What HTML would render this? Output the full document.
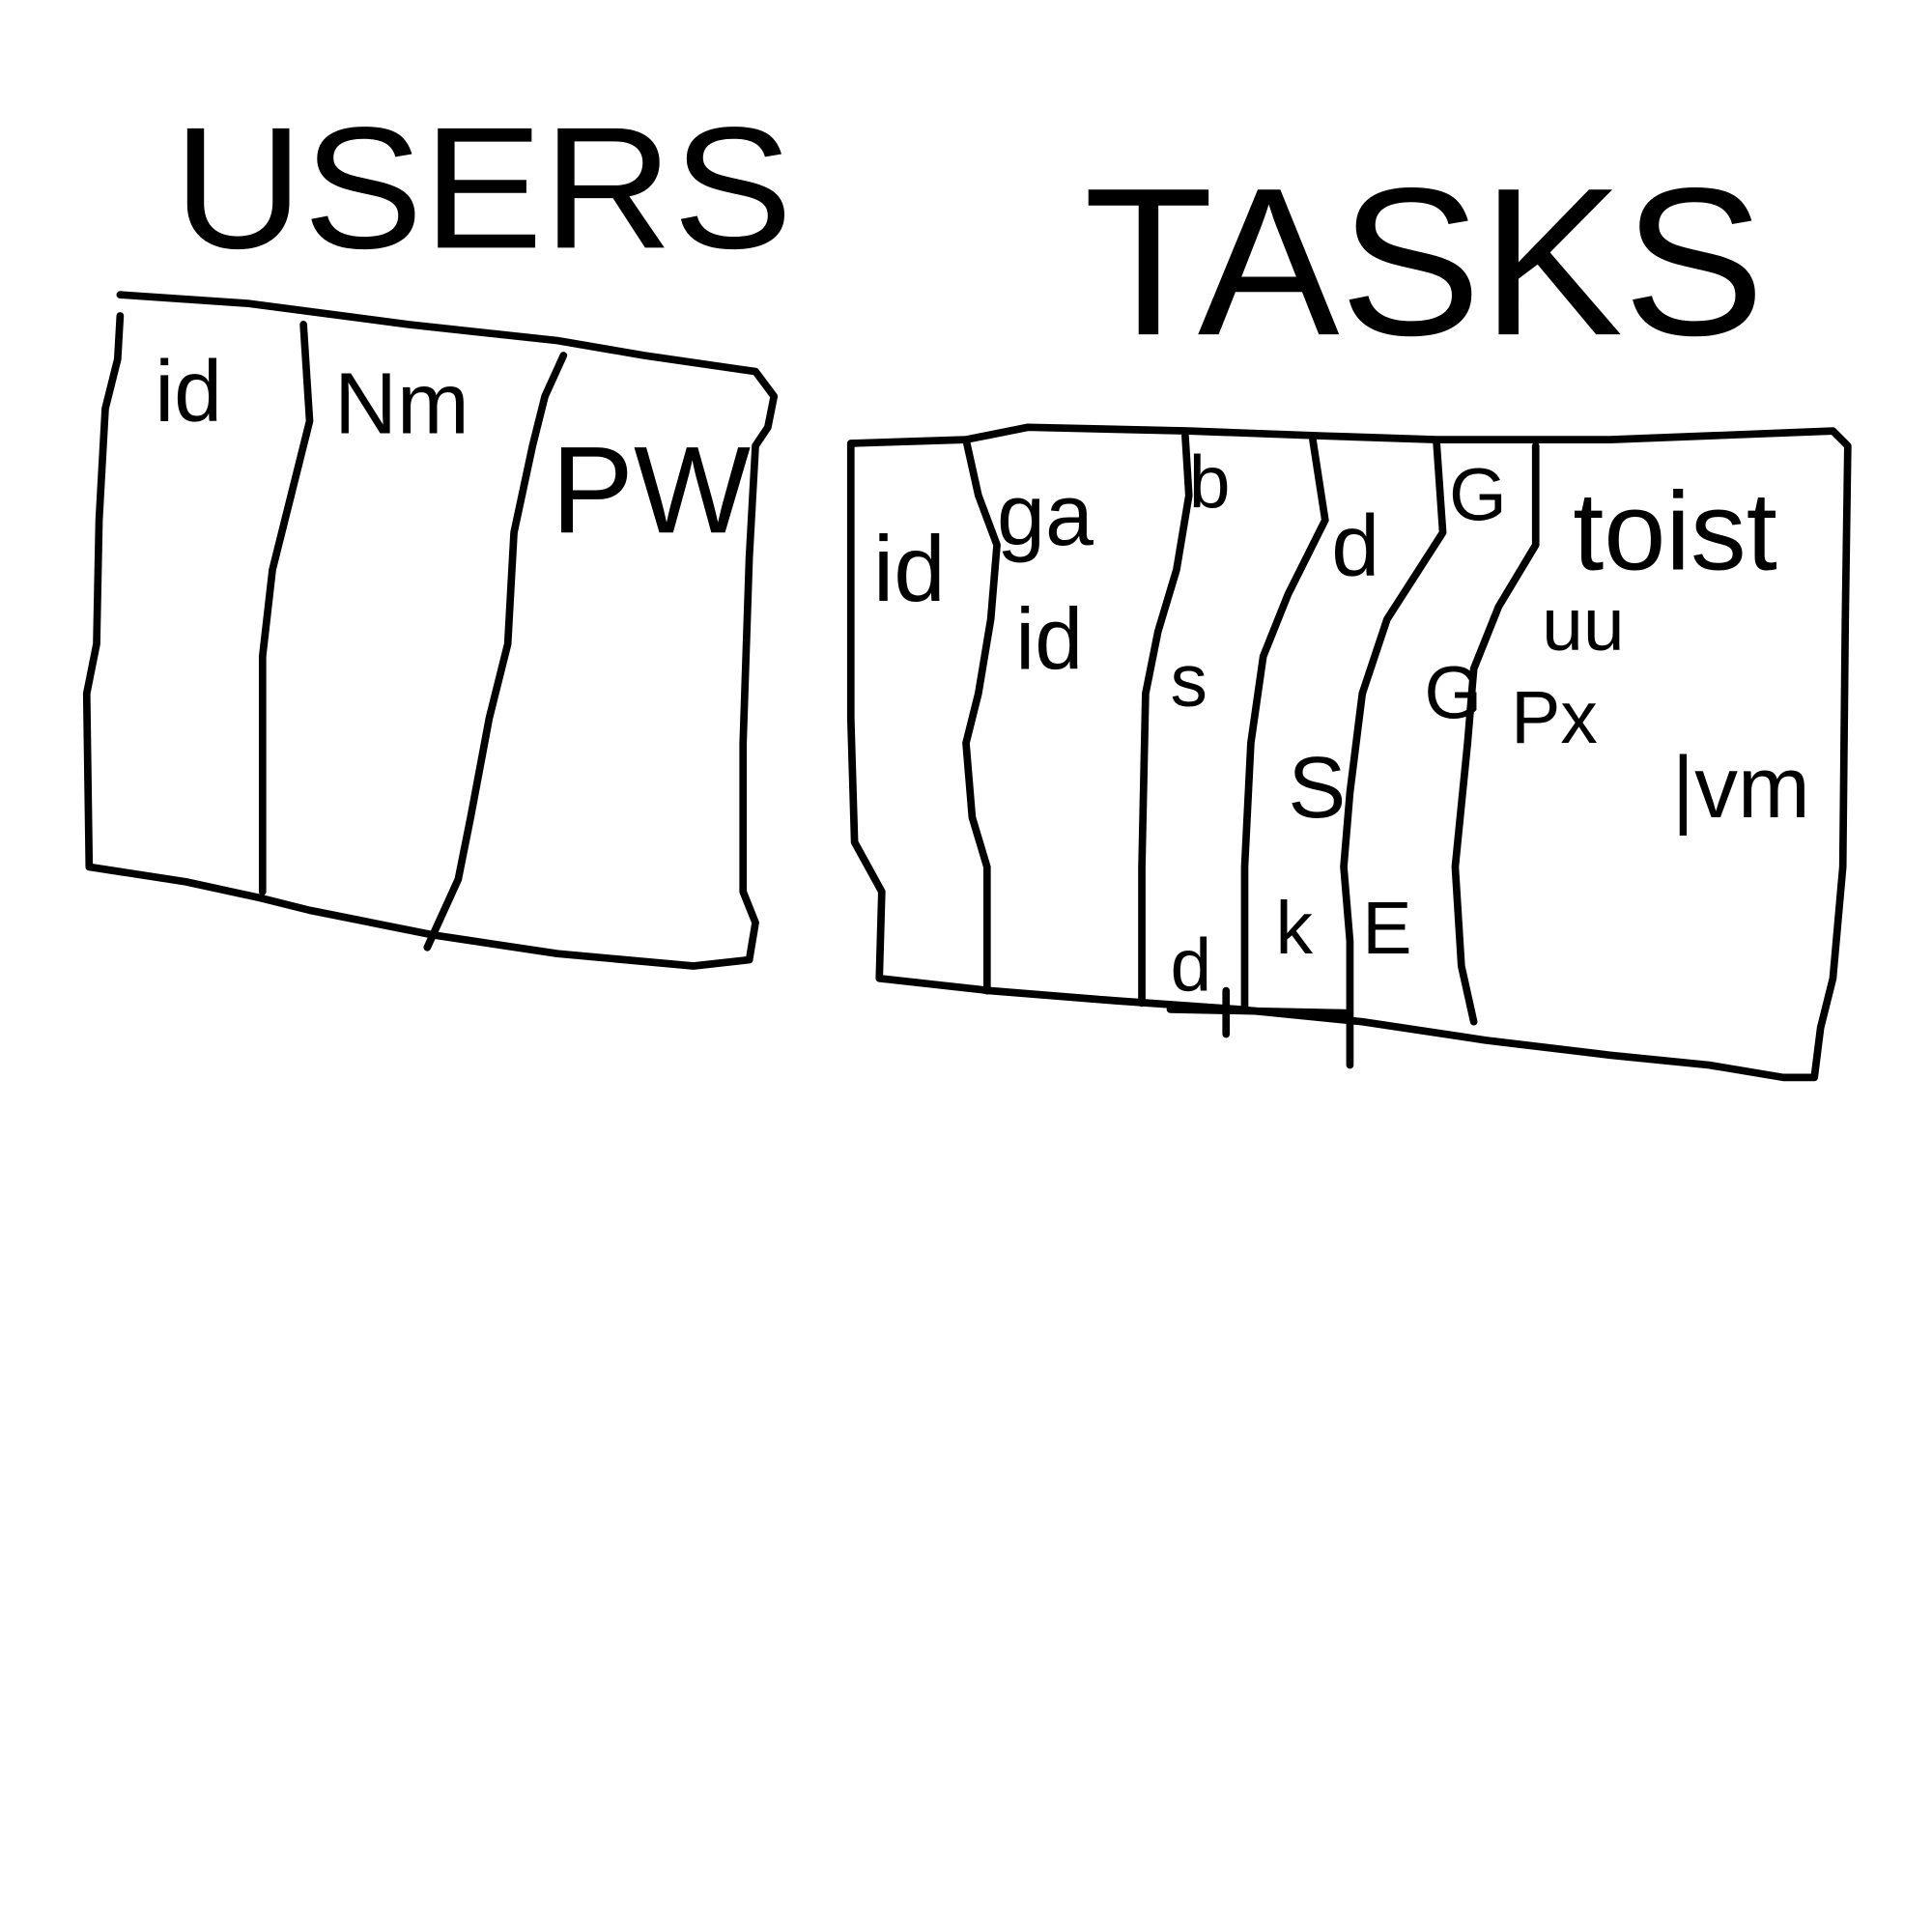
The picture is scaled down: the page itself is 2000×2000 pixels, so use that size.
<!DOCTYPE html>
<html><head><meta charset="utf-8"><style>html,body{margin:0;padding:0;background:#fff}svg{display:block}</style></head>
<body>
<svg width="2000" height="2000" viewBox="0 0 1560 1560" xmlns="http://www.w3.org/2000/svg">
<g fill="none" stroke="#000" stroke-width="6" stroke-linejoin="round" stroke-linecap="round">
<polyline points="97,238 200,245 330,262 450,275 520,287 610,300 625,320 620,345 610,360 605,450 600,600 600,720 610,745 605,775 560,780 450,770 350,755 250,735 210,725 150,712 72,700 70,560 78,520 80,420 85,330 95,290 97,255"/>
<polyline points="245,262 250,340 235,400 220,460 212,530 212,720"/>
<polyline points="455,287 440,320 430,360 415,430 410,520 395,580 380,660 370,710 345,765"/>
<polyline points="687,358 780,355 830,345 960,348 1070,352 1160,355 1300,355 1480,348 1492,360 1490,500 1488,700 1480,790 1470,830 1465,870 1440,870 1380,860 1300,852 1200,840 1100,825 1000,815 900,808 800,800 710,790 712,720 690,680 687,580 687,358"/>
<polyline points="780,355 790,400 805,440 800,500 790,560 780,600 785,660 797,700 797,800"/>
<polyline points="957,352 960,400 950,460 935,510 925,560 922,700 922,810"/>
<polyline points="1060,355 1070,420 1040,480 1020,530 1010,600 1005,700 1005,815"/>
<polyline points="1160,358 1165,430 1120,500 1100,560 1090,640 1085,700 1090,760 1090,860"/>
<polyline points="1240,360 1240,440 1210,490 1190,540 1185,600 1175,700 1180,780 1190,825"/>
<line x1="945" y1="815" x2="1090" y2="818"/>
<line x1="990" y1="800" x2="990" y2="835"/>
</g>
<g font-family="Liberation Sans, sans-serif" fill="#000">
<text x="140" y="200" font-size="140" textLength="500" lengthAdjust="spacingAndGlyphs">USERS</text>
<text x="875" y="270" font-size="170" textLength="550" lengthAdjust="spacingAndGlyphs">TASKS</text>
<text x="125" y="340" font-size="70">id</text>
<text x="270" y="350" font-size="70">Nm</text>
<text x="445" y="430" font-size="100">PW</text>
<text x="705" y="485" font-size="75">id</text>
<text x="805" y="440" font-size="70">ga</text>
<text x="820" y="540" font-size="70">id</text>
<text x="960" y="410" font-size="60">b</text>
<text x="945" y="570" font-size="60">s</text>
<text x="945" y="800" font-size="60">d</text>
<text x="1075" y="465" font-size="70">d</text>
<text x="1040" y="660" font-size="70">S</text>
<text x="1030" y="770" font-size="60">k</text>
<text x="1170" y="420" font-size="60">G</text>
<text x="1150" y="580" font-size="60">G</text>
<text x="1100" y="770" font-size="60">E</text>
<text x="1270" y="460" font-size="90">toist</text>
<text x="1245" y="525" font-size="60">uu</text>
<text x="1220" y="600" font-size="60">Px</text>
<text x="1350" y="660" font-size="70">|vm</text>
</g>
</svg>
</body></html>
